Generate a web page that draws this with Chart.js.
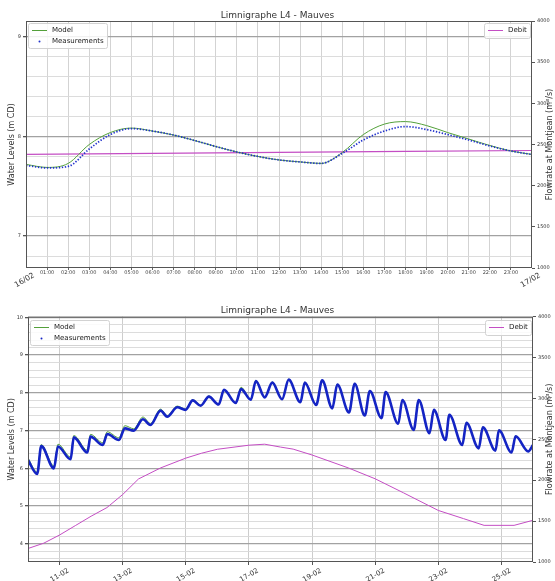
<!DOCTYPE html>
<html><head><meta charset="utf-8">
<script src="https://cdn.jsdelivr.net/npm/chart.js@4.4.1/dist/chart.umd.min.js"></script>
<style>
html,body{margin:0;padding:0;background:#fff;}
#wrap{position:relative;width:555px;height:581px;overflow:hidden;}
canvas{position:absolute;left:0;}
</style></head><body>
<div id="wrap">
<canvas id="top" width="555" height="295" style="top:0"></canvas>
<canvas id="bot" width="555" height="286" style="top:295px"></canvas>
</div>
<script>
// ---------------- DATA ----------------
const chartTitle = 'Limnigraphe L4 - Mauves';
const seriesNames = ['Model', 'Measurements', 'Debit'];
const leftAxisTitle = 'Water Levels (m CD)';
const rightAxisTitle = 'Flowrate at Montjean (m³/s)';

// Top panel: 16/02 00:00 -> 17/02 00:00, hours
const topHours    = [0,1,2,3,4,5,6,7,8,9,10,11,12,13,14,15,16,17,18,19,20,21,22,23,24];
const topModel    = [7.72,7.69,7.73,7.92,8.04,8.085,8.055,8.015,7.96,7.90,7.845,7.80,7.765,7.745,7.73,7.84,8.02,8.125,8.15,8.11,8.04,7.975,7.91,7.855,7.82];
const topMeasured = [7.71,7.685,7.70,7.875,8.02,8.08,8.055,8.015,7.96,7.90,7.845,7.80,7.765,7.745,7.73,7.83,7.965,8.055,8.10,8.07,8.02,7.965,7.905,7.855,7.82];
const topDebitHours = [0,6,12,18,24];
const topDebit      = [2380,2392,2404,2416,2428];
const topHourLabels = ['01:00','02:00','03:00','04:00','05:00','06:00','07:00','08:00','09:00','10:00','11:00','12:00',
                       '13:00','14:00','15:00','16:00','17:00','18:00','19:00','20:00','21:00','22:00','23:00'];
const topDateLabels = ['16/02','17/02'];

// Bottom panel: 10-02 00:00 -> 26-02 00:00, days since 10-02
const botDays = [0.00,0.29,0.42,0.82,0.95,1.35,1.45,1.88,1.98,2.37,2.51,2.88,3.07,3.35,3.64,3.88,4.20,4.41,4.73,4.99,
                 5.22,5.47,5.73,6.04,6.21,6.58,6.75,7.06,7.22,7.50,7.74,8.05,8.26,8.63,8.77,9.13,9.32,9.64,9.80,10.17,
                 10.35,10.67,10.83,11.20,11.33,11.73,11.86,12.22,12.38,12.72,12.86,13.23,13.35,13.76,13.89,14.28,14.41,
                 14.81,14.92,15.32,15.45,15.85,16.00];
const botMeasured = [6.22,5.85,6.59,6.00,6.58,6.24,6.82,6.42,6.84,6.62,6.91,6.75,7.06,7.00,7.30,7.15,7.53,7.37,7.62,7.55,
                     7.80,7.66,7.90,7.69,8.08,7.73,8.10,7.82,8.31,7.88,8.27,7.83,8.35,7.75,8.27,7.68,8.33,7.59,8.22,7.48,
                     8.24,7.40,8.05,7.33,8.02,7.18,7.81,7.02,7.81,6.93,7.55,6.75,7.42,6.62,7.21,6.53,7.09,
                     6.47,7.01,6.42,6.85,6.45,6.62];
const botModel = [6.27,5.90,6.63,6.06,6.64,6.30,6.87,6.48,6.90,6.68,6.97,6.81,7.13,7.05,7.36,7.19,7.57,7.40,7.65,7.57,
                  7.82,7.68,7.92,7.70,8.085,7.73,8.15,7.82,8.33,7.89,8.29,7.84,8.36,7.76,8.28,7.68,8.34,7.60,8.23,7.49,
                  8.25,7.41,8.06,7.34,8.03,7.19,7.82,7.03,7.82,6.94,7.56,6.76,7.43,6.63,7.22,6.54,7.10,
                  6.48,7.02,6.43,6.86,6.46,6.63];
const botDebitDays = [0,0.5,1.0,1.5,2.0,2.5,3.0,3.5,4.2,5.0,5.5,6.0,7.0,7.5,8.0,8.4,9.0,10.15,11.0,11.9,13.0,13.8,14.45,15.4,16.0];
const botDebit     = [1165,1230,1330,1445,1560,1665,1825,2015,2150,2270,2330,2378,2428,2440,2405,2380,2308,2150,2017,1845,1630,1530,1448,1448,1510];
const botTickDays   = [1,3,5,7,9,11,13,15];
const botTickLabels = ['11-02','13-02','15-02','17-02','19-02','21-02','23-02','25-02'];
const flowTicks = [1000,1500,2000,2500,3000,3500,4000];

// ---------------- HELPERS ----------------
const F = 'DejaVu Sans';
const GREEN = '#53a03a', BLUE = '#2232cc', MAG = '#c44ec4';
const pts = (xs, ys) => xs.map((x, i) => ({x: x, y: ys[i]}));
const isInt = v => Math.abs(v - Math.round(v)) < 1e-6;

const framePlugin = {
  id: 'frame',
  afterDatasetsDraw(chart) {
    const {ctx, chartArea: a} = chart;
    ctx.save();
    ctx.strokeStyle = '#555'; ctx.lineWidth = 1;
    ctx.strokeRect(a.left + 0.5, a.top + 0.5, a.right - a.left - 1, a.bottom - a.top - 1);
    ctx.restore();
  }
};
// lets an overlaid zero-height date axis keep room for its labels
const overlayAxis = {
  id: 'overlayAxis',
  afterLayout(chart, args, o) {
    (o.ids || []).forEach(id => {
      const s = chart.scales[id];
      if (s) { s.bottom = chart.height; }
    });
  }
};
const sideTitle = {
  id: 'sideTitle',
  afterDraw(chart, args, o) {
    if (!o.text) return;
    const {ctx, chartArea: a} = chart;
    ctx.save();
    ctx.translate(chart.width - o.offset, (a.top + a.bottom) / 2);
    ctx.rotate(-Math.PI / 2);
    ctx.font = '8px "' + F + '"';
    ctx.fillStyle = '#333'; ctx.textAlign = 'center'; ctx.textBaseline = 'middle';
    ctx.fillText(o.text, 0, 0);
    ctx.restore();
  }
};
const boxLegend = {
  id: 'boxLegend',
  afterDraw(chart, args, o) {
    const {ctx, chartArea: a} = chart;
    (o.boxes || []).forEach(b => {
      const ds = b.items.map(i => chart.data.datasets[i]);
      ctx.save();
      ctx.font = '7px "' + F + '"';
      const tw = Math.max(...ds.map(d => ctx.measureText(d.label).width));
      const rowH = 10.5, sw = 15, pad = 4, gap = 5;
      const w = Math.round(pad + sw + gap + tw + 3), h = Math.round(ds.length * rowH + 4);
      const x0 = b.side === 'right' ? Math.round(a.right - 2 - w) : Math.round(a.left + 2);
      const y0 = Math.round(a.top + b.dy);
      ctx.beginPath();
      if (ctx.roundRect) ctx.roundRect(x0 + 0.5, y0 + 0.5, w, h, 2); else ctx.rect(x0 + 0.5, y0 + 0.5, w, h);
      ctx.fillStyle = 'rgba(255,255,255,0.85)'; ctx.fill();
      ctx.strokeStyle = '#d2d2d2'; ctx.lineWidth = 1; ctx.stroke();
      ds.forEach((d, k) => {
        const cy = Math.round(y0 + 2 + rowH * (k + 0.5)) + 0.5;
        const sx = x0 + pad;
        if (d.legendMarker === 'dot') {
          ctx.fillStyle = d.borderColor;
          ctx.beginPath(); ctx.arc(sx + sw / 2, cy, 1, 0, 2 * Math.PI); ctx.fill();
        } else {
          ctx.strokeStyle = d.borderColor; ctx.lineWidth = 1;
          ctx.beginPath(); ctx.moveTo(sx, cy); ctx.lineTo(sx + sw, cy); ctx.stroke();
        }
        ctx.fillStyle = '#222'; ctx.textAlign = 'left'; ctx.textBaseline = 'middle';
        ctx.fillText(d.label, sx + sw + gap, cy);
      });
      ctx.restore();
    });
  }
};

function levelAxis(min, max, width) {
  return {
    type: 'linear', position: 'left', min: min, max: max,
    afterBuildTicks: s => {
      const t = [];
      for (let k = Math.ceil(min * 5 - 1e-6); k <= Math.floor(max * 5 + 1e-6); k++) t.push({value: +(k / 5).toFixed(1)});
      s.ticks = t;
    },
    ticks: {font: {family: F, size: 5}, color: '#333', padding: 2, autoSkip: false,
            callback: v => isInt(v) ? String(Math.round(v)) : ''},
    grid: {
      color: c => (c.tick && isInt(c.tick.value)) ? '#a2a2a2' : '#d8d8d8',
      lineWidth: c => (c.tick && isInt(c.tick.value)) ? 1.3 : 0.9,
      tickLength: 3,
      tickColor: c => (c.tick && isInt(c.tick.value)) ? '#555' : 'rgba(0,0,0,0)'
    },
    border: {display: false},
    title: {display: true, text: leftAxisTitle, font: {family: F, size: 8}, color: '#333', padding: {top: 7, bottom: 0}},
    afterFit: s => { s.width = width; }
  };
}
function flowAxis(width) {
  return {
    type: 'linear', position: 'right', min: flowTicks[0], max: flowTicks[flowTicks.length - 1],
    afterBuildTicks: s => { s.ticks = flowTicks.map(v => ({value: v})); },
    ticks: {font: {family: F, size: 5}, color: '#333', padding: 2, autoSkip: false, callback: v => String(v)},
    grid: {drawOnChartArea: false, tickLength: 3, tickColor: '#555'},
    border: {display: false},
    afterFit: s => { s.width = width; }
  };
}
function baseOptions(titleTop, legendDy) {
  return {
    responsive: false, animation: false, devicePixelRatio: 1,
    layout: {padding: 0},
    plugins: {
      legend: {display: false}, tooltip: {enabled: false},
      title: {display: true, text: chartTitle, font: {family: F, size: 9, weight: 'normal'}, color: '#333',
              padding: {top: titleTop, bottom: 0.2}},
      sideTitle: {text: rightAxisTitle, offset: 5.5},
      overlayAxis: {ids: ['x2']},
      boxLegend: {boxes: [{items: [0, 1], side: 'left', dy: legendDy}, {items: [2], side: 'right', dy: legendDy}]}
    }
  };
}

// ---------------- TOP CHART ----------------
const topOpts = baseOptions(10, 2);
topOpts.scales = {
  x: {
    type: 'linear', min: 0, max: 24, weight: 1,
    afterBuildTicks: s => { s.ticks = topHourLabels.map((_, i) => ({value: i + 1})); },
    ticks: {autoSkip: false, minRotation: 0, maxRotation: 0, font: {family: F, size: 5}, color: '#444', padding: 0,
            callback: (v, i) => topHourLabels[i]},
    grid: {color: '#d3d3d3', lineWidth: 1, tickLength: 2, tickColor: '#666'},
    border: {display: false},
    afterFit: s => { s.height = 27; }
  },
  x2: {
    type: 'linear', min: 0, max: 24, weight: 0, position: 'bottom',
    afterBuildTicks: s => { s.ticks = [{value: 0}, {value: 24}]; },
    ticks: {autoSkip: false, minRotation: 30, maxRotation: 30, font: {family: F, size: 7.5}, color: '#333',
            padding: 3, labelOffset: 8, callback: (v, i) => topDateLabels[i]},
    grid: {display: false, drawTicks: false},
    border: {display: false},
    afterFit: s => { s.height = 0; }
  },
  y: levelAxis(6.68, 9.16, 26),
  y2: flowAxis(23)
};
new Chart(document.getElementById('top'), {
  type: 'line',
  data: {datasets: [
    {label: seriesNames[0], data: pts(topHours, topModel), borderColor: GREEN, borderWidth: 1, pointRadius: 0,
     cubicInterpolationMode: 'monotone', xAxisID: 'x', yAxisID: 'y', order: 1},
    {label: seriesNames[1], data: pts(topHours, topMeasured), borderColor: BLUE, borderWidth: 1.7, borderDash: [1.4, 1.6],
     pointRadius: 0, cubicInterpolationMode: 'monotone', xAxisID: 'x', yAxisID: 'y', order: 0, legendMarker: 'dot'},
    {label: seriesNames[2], data: pts(topDebitHours, topDebit), borderColor: MAG, borderWidth: 1.1, pointRadius: 0,
     tension: 0, xAxisID: 'x', yAxisID: 'y2', order: 2}
  ]},
  options: topOpts,
  plugins: [framePlugin, overlayAxis, sideTitle, boxLegend]
});

// ---------------- BOTTOM CHART ----------------
const botOpts = baseOptions(10.6, 3);
botOpts.scales = {
  x: {
    type: 'linear', min: 0, max: 16,
    afterBuildTicks: s => { s.ticks = botTickDays.map(v => ({value: v})); },
    ticks: {autoSkip: false, minRotation: 30, maxRotation: 30, font: {family: F, size: 7}, color: '#333',
            padding: 1.5, labelOffset: 9, callback: (v, i) => botTickLabels[i]},
    grid: {color: '#cdcdcd', lineWidth: 1, tickLength: 3, tickColor: '#555'},
    border: {display: false},
    afterFit: s => { s.height = 19; }
  },
  y: levelAxis(3.52, 10.02, 28),
  y2: flowAxis(22)
};
new Chart(document.getElementById('bot'), {
  type: 'line',
  data: {datasets: [
    {label: seriesNames[0], data: pts(botDays, botModel), borderColor: GREEN, borderWidth: 1, pointRadius: 0,
     cubicInterpolationMode: 'monotone', yAxisID: 'y', order: 1},
    {label: seriesNames[1], data: pts(botDays, botMeasured), borderColor: '#1424c4', borderWidth: 2.6, pointRadius: 0,
     cubicInterpolationMode: 'monotone', yAxisID: 'y', order: 0, legendMarker: 'dot'},
    {label: seriesNames[2], data: pts(botDebitDays, botDebit), borderColor: MAG, borderWidth: 1, pointRadius: 0,
     tension: 0, yAxisID: 'y2', order: 2}
  ]},
  options: botOpts,
  plugins: [framePlugin, overlayAxis, sideTitle, boxLegend]
});
</script>
</body></html>
